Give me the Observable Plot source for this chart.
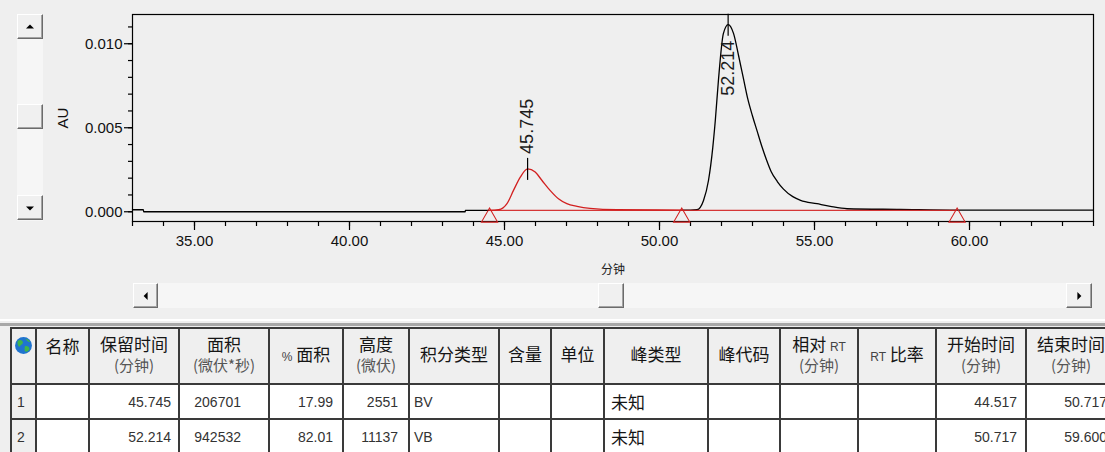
<!DOCTYPE html>
<html lang="zh-CN">
<head>
<meta charset="utf-8">
<title>色谱图与峰表</title>
<script src="https://cdn.jsdelivr.net/npm/d3@7"></script>
<script src="https://cdn.jsdelivr.net/npm/@observablehq/plot@0.6"></script>
<style>
  html, body { margin: 0; padding: 0; background: #efefef; }
  #app { position: relative; width: 1105px; height: 452px; overflow: hidden; background: #efefef; }
  #chart { position: absolute; left: 0; top: 0; }
  .track { position: absolute; background: #f6f6f6; }
  .btn { position: absolute; box-sizing: border-box; background: #f0f0f0;
         border: 1px solid; border-color: #ffffff #6b6b6b #6b6b6b #ffffff;
         box-shadow: inset -1px -1px #a3a3a3; }
  .arrow { position: absolute; left: 50%; top: 50%; width: 0; height: 0; }
  .up { border-left: 4px solid transparent; border-right: 4px solid transparent; border-bottom: 4px solid #000; transform: translate(-50%, -60%); }
  .down { border-left: 4px solid transparent; border-right: 4px solid transparent; border-top: 4px solid #000; transform: translate(-50%, -40%); }
  .left { border-top: 4px solid transparent; border-bottom: 4px solid transparent; border-right: 4px solid #000; transform: translate(-60%, -50%); }
  .right { border-top: 4px solid transparent; border-bottom: 4px solid transparent; border-left: 4px solid #000; transform: translate(-40%, -50%); }
  .sep { position: absolute; left: 0; width: 1105px; }
  #peaks { position: absolute; left: 10px; top: 327px; border-collapse: collapse; table-layout: fixed; width: 1105px; }
  #peaks th, #peaks td { border: 2px solid #3a3a3a; padding: 0; overflow: hidden; white-space: nowrap; }
  #peaks thead tr { height: 56px; }
  #peaks th { background: #efefef; font: normal 17px/20px "Noto Sans CJK SC", sans-serif; color: #151515; text-align: center; vertical-align: middle; padding-bottom: 4px; }
  #peaks th.topish { vertical-align: top; padding-top: 7px; padding-bottom: 0; }
  #peaks th .unit { color: #555; font-size: 15px; }
  #peaks .lat { font: 12px "Liberation Sans", sans-serif; color: #444; }
  #peaks tbody tr { height: 35px; }
  #peaks td { background: #fff; font: 14px "Liberation Sans", sans-serif; color: #333; vertical-align: middle; }
  #peaks td.idx { background: #efefef; padding-left: 5px; }
  #peaks td.cjk { font: 17px "Noto Sans CJK SC", sans-serif; color: #151515; }
</style>
</head>
<body>
<div id="app">
  <div id="chart"></div>

  <!-- vertical scroll bar beside the AU axis -->
  <div class="track" style="left:17px;top:14px;width:26px;height:207px"></div>
  <div class="btn" style="left:17px;top:14px;width:26px;height:25px"><div class="arrow up"></div></div>
  <div class="btn" style="left:17px;top:104px;width:26px;height:25px"></div>
  <div class="btn" style="left:17px;top:195px;width:26px;height:25px"><div class="arrow down"></div></div>

  <!-- horizontal scroll bar under the time axis -->
  <div class="track" style="left:133px;top:283px;width:959px;height:25px"></div>
  <div class="btn" style="left:133px;top:283px;width:25px;height:25px"><div class="arrow left"></div></div>
  <div class="btn" style="left:598px;top:283px;width:26px;height:25px"></div>
  <div class="btn" style="left:1066px;top:283px;width:26px;height:25px"><div class="arrow right"></div></div>

  <div class="sep" style="top:319px;height:2px;background:#ffffff"></div>
  <div class="sep" style="top:323px;height:3px;background:#a8a8a8"></div>

  <table id="peaks"></table>
</div>

<script>
// ---- detector trace: time (min) and absorbance (AU) ----
const traceTime = [33.00, 33.35, 33.36, 43.73, 43.74, 44.517, 44.81, 45.08, 45.29, 45.51,
  45.99, 46.21, 46.47, 46.74, 47.01, 47.34, 47.76, 48.63, 50.717, 51.00,
  51.21, 51.42, 51.58, 51.72, 51.80, 51.90, 52.06, 52.39, 52.55, 52.70,
  52.85, 53.00, 53.15, 53.30, 53.45, 53.60, 53.80, 54.00, 54.30, 54.55,
  55.08, 55.51, 56.05, 57.76, 59.60, 64.00];
const traceAU = [0.00012, 0.00012, 0.0, 0.0, 0.00008, 0.00008, 0.00012, 0.00048, 0.00127, 0.00206,
  0.00236, 0.00186, 0.00127, 0.00077, 0.00048, 0.00032, 0.00020, 0.00012, 0.00010, 0.00010,
  0.00012, 0.00067, 0.00186, 0.00385, 0.00543, 0.00780, 0.01060, 0.01060, 0.00930, 0.00800,
  0.00670, 0.00570, 0.00480, 0.00390, 0.00310, 0.00240, 0.00180, 0.00135, 0.00090, 0.00068,
  0.00048, 0.00032, 0.00018, 0.00014, 0.00010, 0.00010];

// ---- peak table ----
const peakNumber = [1, 2];
const peakName = ["", ""];
const retentionTime = [45.745, 52.214];      // 分钟
const peakArea = [206701, 942532];           // 微伏*秒
const areaPercent = [17.99, 82.01];
const peakHeight = [2551, 11137];            // 微伏
const integrationType = ["BV", "VB"];
const peakKind = ["未知", "未知"];
const startTime = [44.517, 50.717];          // 分钟
const endTime = [50.717, 59.600];            // 分钟
const baselineStartAU = [0.00008, 0.00008];
const baselineEndAU = [0.00008, 0.00008];

// ---- table headings ----
const columnTitle = ["", "名称", "保留时间", "面积", "% 面积", "高度", "积分类型", "含量", "单位",
  "峰类型", "峰代码", "相对 RT", "RT 比率", "开始时间", "结束时间"];
const columnUnit = ["", "", "(分钟)", "(微伏*秒)", "", "(微伏)", "", "", "",
  "", "", "(分钟)", "", "(分钟)", "(分钟)"];

// ---- axis ticks ----
const timeMajorTicks = [35, 40, 45, 50, 55, 60];
const timeMinorTicks = d3.range(33, 65);
const auMajorTicks = [0, 0.005, 0.010];
const auMinorTicks = d3.range(0, 12).map(k => k / 1000);

// ---- chart ----
const LATIN = "'Liberation Sans', Arial, sans-serif";
const CJK = "'Noto Sans CJK SC', sans-serif";
const RED = "#d22020";
const yDomain = [-0.00058, 0.01174];

const peaks = retentionTime.map((rt, i) => ({rt, apex: peakHeight[i] / 1e6}));

// apex points come from the peak table heights (µV → AU)
const trace = traceTime.map((t, i) => ({t, au: traceAU[i]}))
  .concat(peaks.map(p => ({t: p.rt, au: p.apex})))
  .sort((a, b) => a.t - b.t);

// the first integrated peak is drawn in red, the rest of the trace in black
const hiStart = startTime[0], hiEnd = endTime[0];
const before = trace.filter(d => d.t <= hiStart);
const inside = trace.filter(d => d.t >= hiStart && d.t <= hiEnd);
const after = trace.filter(d => d.t >= hiEnd);

const baselines = startTime.map((s, i) => ({x1: s, x2: endTime[i], y1: baselineStartAU[i], y2: baselineEndAU[i]}));
const dropMarks = [];
startTime.forEach((s, i) => dropMarks.push({t: s, au: baselineStartAU[i]}));
endTime.forEach((e, i) => dropMarks.push({t: e, au: baselineEndAU[i]}));
const drops = d3.groups(dropMarks, d => d.t).map(([t, g]) => g[0]);

// short vertical stroke marking a peak apex
const apexBar = {draw(ctx, size) { const h = Math.sqrt(size / Math.PI); ctx.moveTo(0, -h); ctx.lineTo(0, h); }};

const fmtRT = d3.format(".3f");
const high = d => d.apex > yDomain[1] / 2;

const chart = Plot.plot({
  width: 1105,
  height: 280,
  marginTop: 14,
  marginRight: 12,
  marginBottom: 59,
  marginLeft: 132,
  style: {background: "transparent", fontFamily: LATIN, color: "#000", overflow: "visible"},
  x: {domain: [33, 64], label: null},
  y: {domain: yDomain, label: null},
  marks: [
    Plot.axisX(timeMinorTicks, {tickSize: 5, tickFormat: () => "", label: null, strokeWidth: 1.2}),
    Plot.axisX(timeMajorTicks, {tickSize: 9, tickPadding: 5, tickFormat: d3.format(".2f"), fontSize: 15, fill: "#111", label: null, strokeWidth: 1.2}),
    Plot.axisX([], {tickSize: 0, label: "分钟", labelAnchor: "center", labelArrow: "none", labelOffset: 52, fontSize: 12, fontFamily: CJK, fill: "#222"}),
    Plot.axisY(auMinorTicks, {tickSize: 4, tickFormat: () => "", label: null, strokeWidth: 1.2}),
    Plot.axisY(auMajorTicks, {tickSize: 8, tickPadding: 2, tickFormat: d3.format(".3f"), fontSize: 15, fill: "#111", strokeWidth: 1.2,
      label: "AU", labelAnchor: "center", labelArrow: "none", labelOffset: 75}),
    Plot.frame({stroke: "#000", strokeWidth: 1.2}),
    Plot.line(before, {x: "t", y: "au", stroke: "#000", strokeWidth: 1.3, curve: "monotone-x"}),
    Plot.line(after, {x: "t", y: "au", stroke: "#000", strokeWidth: 1.3, curve: "monotone-x"}),
    Plot.line(inside, {x: "t", y: "au", stroke: RED, strokeWidth: 1.3, curve: "monotone-x"}),
    Plot.link(baselines, {x1: "x1", x2: "x2", y1: "y1", y2: "y2", stroke: RED, strokeWidth: 1.2, strokeOpacity: 0.9}),
    Plot.dot(drops, {x: "t", y: "au", symbol: "triangle", r: 6, dy: 7, stroke: RED, fill: "none", strokeWidth: 1.1}),
    Plot.dot(peaks, {x: "rt", y: "apex", symbol: apexBar, r: 11, stroke: "#000", strokeWidth: 1.2}),
    Plot.text(peaks.filter(d => !high(d)), {x: "rt", y: "apex", text: d => fmtRT(d.rt), rotate: -90,
      textAnchor: "start", dy: -15, fontSize: 18, fill: "#1c1c1c"}),
    Plot.text(peaks.filter(high), {x: "rt", y: "apex", text: d => fmtRT(d.rt), rotate: -90,
      textAnchor: "end", dy: 16, fontSize: 18, fill: "#1c1c1c"})
  ]
});
document.getElementById("chart").append(chart);

// ---- peak table ----
const columnWidth = [25, 53, 90, 90, 74, 66, 90, 52, 53, 104, 72, 78, 78, 90, 90];
const latinSpans = s => s.replace(/([A-Za-z%]+)/g, "<span class='lat'>$1</span>");
const globe = `<svg width="19" height="19" viewBox="0 0 18 18" style="display:block;margin-left:2px">
  <circle cx="9" cy="9" r="8" fill="#1f74cf"/>
  <path d="M3.5 4.5 C6 3 8.5 4 8.5 6.5 C8 8.5 6 8.5 5 10.5 C4 9.5 2.8 7.5 3.5 4.5Z M10.5 9.5 C13 9 15 10.5 14.5 13 C13 15 11 15.5 10 14 C10.5 12.5 9.5 11 10.5 9.5Z M11 2.5 C13 2.8 14.5 4 15.5 5.5 C14 6 12.5 5 11 2.5Z" fill="#3fb54b"/>
</svg>`;

const table = d3.select("#peaks");
const cg = table.append("colgroup");
columnWidth.forEach(w => cg.append("col").style("width", w + "px"));

const hr = table.append("thead").append("tr");
columnTitle.forEach((title, j) => {
  const th = hr.append("th");
  if (j === 0) th.attr("class", "topish").html(globe);
  else {
    if (j === 1) th.attr("class", "topish");
    th.html(latinSpans(title) + (columnUnit[j] ? `<br><span class="unit">${columnUnit[j]}</span>` : ""));
  }
});

const body = table.append("tbody");
peakNumber.forEach((n, i) => {
  const cells = [
    {v: n, cls: "idx"},
    {v: peakName[i]},
    {v: fmtRT(retentionTime[i]), right: 7},
    {v: peakArea[i], right: 27},
    {v: areaPercent[i].toFixed(2), right: 9},
    {v: peakHeight[i], right: 10},
    {v: integrationType[i], left: 4},
    {v: ""},
    {v: ""},
    {v: peakKind[i], left: 6, cls: "cjk"},
    {v: ""},
    {v: ""},
    {v: ""},
    {v: fmtRT(startTime[i]), right: 8},
    {v: fmtRT(endTime[i]), right: 8}
  ];
  const tr = body.append("tr");
  cells.forEach(c => {
    const td = tr.append("td").text(c.v);
    if (c.cls) td.attr("class", c.cls);
    if (c.right != null) td.style("text-align", "right").style("padding-right", c.right + "px");
    if (c.left != null) td.style("padding-left", c.left + "px");
  });
});
</script>
</body>
</html>
